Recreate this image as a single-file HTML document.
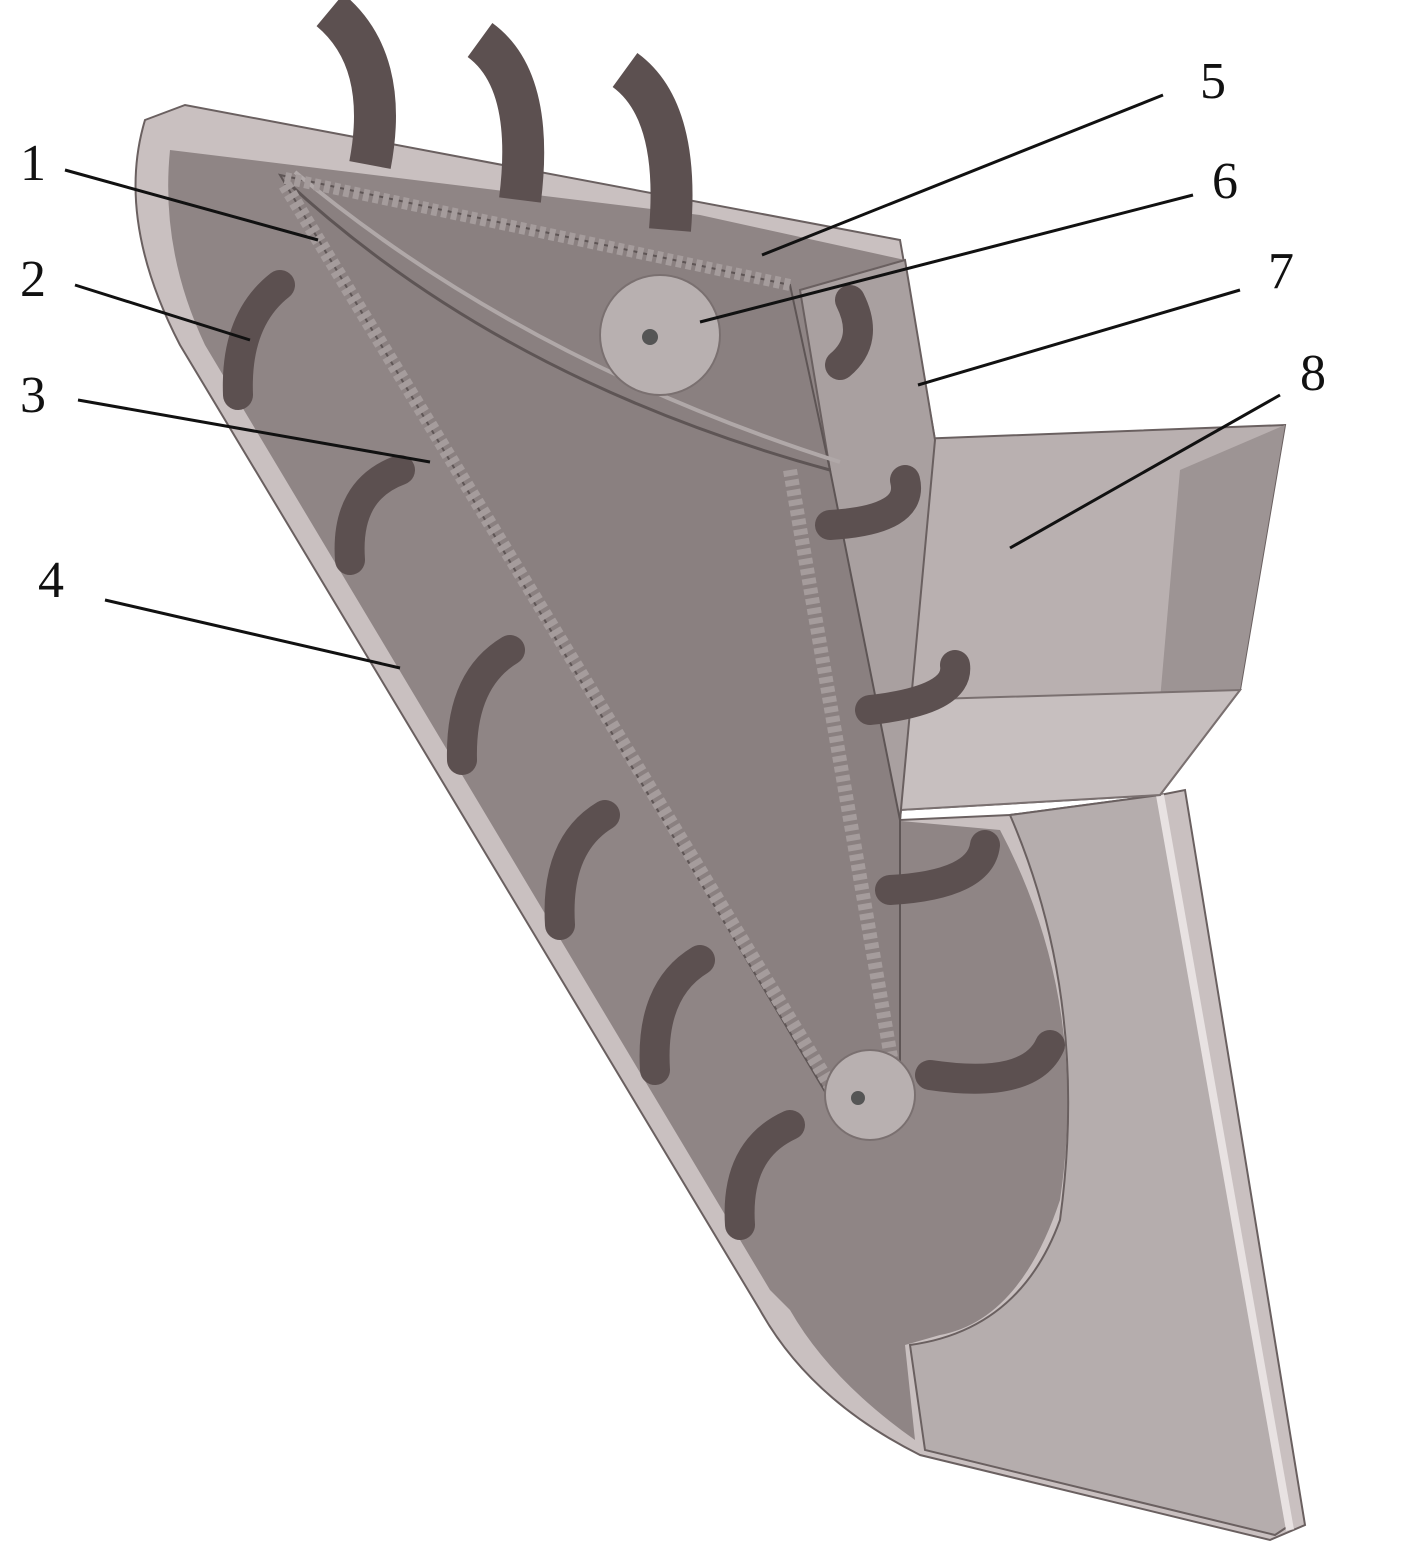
<!DOCTYPE html>
<html><head><meta charset="utf-8"><style>
html,body{margin:0;padding:0;background:#fff;}
svg{display:block}
text{font-family:"Liberation Serif",serif;font-size:52px;fill:#111}
</style></head><body>
<svg width="1417" height="1544" viewBox="0 0 1417 1544" xmlns="http://www.w3.org/2000/svg">
<path d="M145,120 L185,105 L900,240 L935,440 L900,820 L1010,815 L1160,795 L1185,790 L1305,1525 L1270,1540 L920,1455 Q810,1400 760,1310 L180,345 Q115,220 145,120 Z" fill="#c9c0c0" stroke="#6a6060" stroke-width="2"/>
<path d="M170,150 L700,215 L905,260 L930,440 L890,820 L1000,830 Q1090,1000 1060,1200 Q1020,1320 940,1335 L905,1345 L915,1440 Q830,1380 790,1310 L770,1290 L205,345 Q160,250 170,150 Z" fill="#8f8585"/>
<path d="M1010,815 L1160,795 L1290,1525 L1275,1535 L925,1450 L910,1345 Q1020,1330 1060,1220 Q1090,1000 1010,815 Z" fill="#b5adad" stroke="#6a6060" stroke-width="2"/>
<line x1="1160" y1="795" x2="1290" y2="1530" stroke="#e8e2e2" stroke-width="8"/>
<path d="M890,440 L1285,425 L1240,690 L1160,795 L900,810 Z" fill="#b9b0b0" stroke="#6a6060" stroke-width="2"/>
<path d="M1180,470 L1285,425 L1240,690 L1160,700 Z" fill="#9d9494"/>
<path d="M900,700 L1240,690 L1160,795 L900,810 Z" fill="#c7bfbf" stroke="#7a7070" stroke-width="2"/>
<path d="M800,290 L905,260 L935,440 L900,820 L870,820 L830,470 Z" fill="#a9a0a0" stroke="#6a6060" stroke-width="2"/>
<path d="M280,175 L790,285 L830,470 L900,820 L900,1080 Q870,1130 830,1100 L280,175 Z" fill="#8a8080" stroke="#5e5555" stroke-width="2"/>
<path d="M285,180 Q500,380 830,470" fill="none" stroke="#5e5555" stroke-width="3"/>
<path d="M295,172 Q520,360 840,462" fill="none" stroke="#b0a8a8" stroke-width="4"/>
<line x1="285" y1="185" x2="845" y2="1110" stroke="#a59c9c" stroke-width="14" stroke-dasharray="6 4"/>
<line x1="285" y1="178" x2="790" y2="285" stroke="#a59c9c" stroke-width="12" stroke-dasharray="6 4"/>
<line x1="790" y1="470" x2="900" y2="1110" stroke="#a59c9c" stroke-width="14" stroke-dasharray="6 4"/>
<circle cx="660" cy="335" r="60" fill="#b8b0b0" stroke="#7a7070" stroke-width="2"/>
<circle cx="650" cy="337" r="8" fill="#555"/>
<circle cx="870" cy="1095" r="45" fill="#b8b0b0" stroke="#7a7070" stroke-width="2"/>
<circle cx="858" cy="1098" r="7" fill="#555"/>
<g fill="none" stroke="#5c5050" stroke-width="30" stroke-linecap="round">
<path d="M280,285 Q235,320 238,395"/>
<path d="M400,470 Q345,490 350,560"/>
<path d="M510,650 Q460,680 462,760"/>
<path d="M605,815 Q555,845 560,925"/>
<path d="M700,960 Q650,990 655,1070"/>
<path d="M790,1125 Q735,1150 740,1225"/>
<path d="M850,300 Q870,340 840,365"/>
<path d="M905,480 Q915,520 830,525"/>
<path d="M955,665 Q960,700 870,710"/>
<path d="M985,845 Q980,885 890,890"/>
<path d="M1050,1045 Q1030,1090 930,1075"/>
</g>
<g fill="none" stroke="#5c5050" stroke-width="42" stroke-linecap="butt">
<path d="M330,10 Q390,60 370,165"/>
<path d="M480,40 Q535,80 520,200"/>
<path d="M625,70 Q680,110 670,230"/>
</g>
<g stroke="#111" stroke-width="3">
<line x1="65" y1="170" x2="318" y2="240"/>
<line x1="75" y1="285" x2="250" y2="340"/>
<line x1="78" y1="400" x2="430" y2="462"/>
<line x1="105" y1="600" x2="400" y2="668"/>
<line x1="1163" y1="95" x2="762" y2="255"/>
<line x1="1193" y1="195" x2="700" y2="322"/>
<line x1="1240" y1="290" x2="918" y2="385"/>
<line x1="1280" y1="395" x2="1010" y2="548"/>
</g>
<text x="20" y="180">1</text>
<text x="20" y="296">2</text>
<text x="20" y="412">3</text>
<text x="38" y="597">4</text>
<text x="1200" y="98">5</text>
<text x="1212" y="198">6</text>
<text x="1268" y="288">7</text>
<text x="1300" y="390">8</text>
</svg>
</body></html>
